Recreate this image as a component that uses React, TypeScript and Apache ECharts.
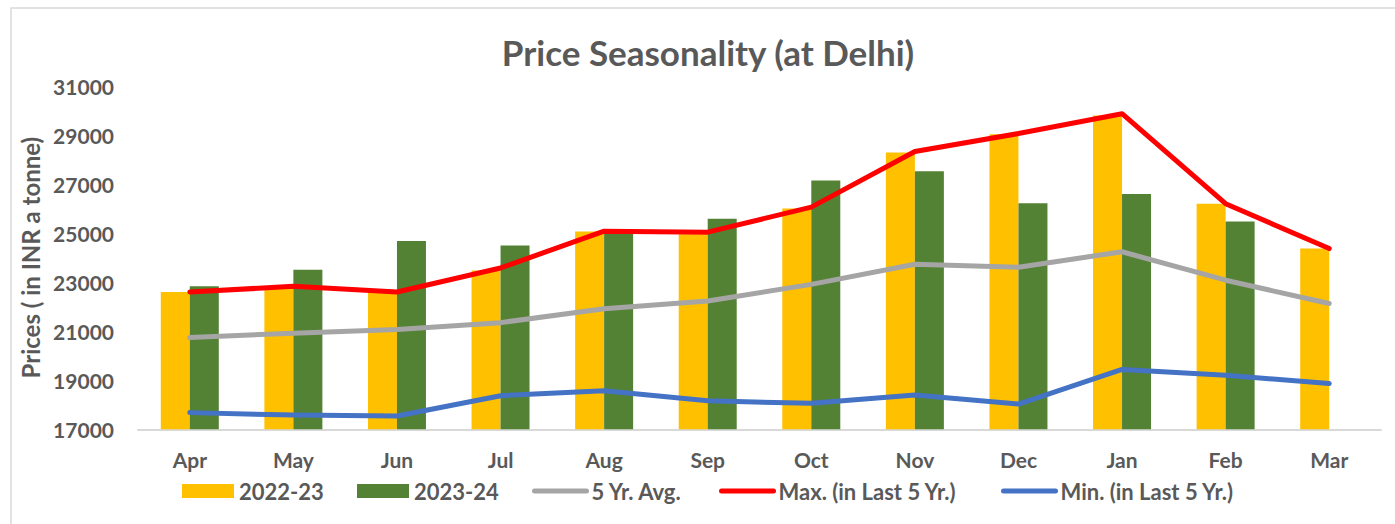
import React, { useEffect, useRef } from "react";
import * as echarts from "echarts";

const categories = ["Apr", "May", "Jun", "Jul", "Aug", "Sep", "Oct", "Nov", "Dec", "Jan", "Feb", "Mar"];
const y2022_23 = [22600, 22750, 22600, 23480, 25070, 24950, 26000, 28290, 29030, 29800, 26200, 24370];
const y2023_24 = [22830, 23510, 24680, 24500, 25100, 25590, 27150, 27520, 26220, 26600, 25470, null];
const avg5 = [20740, 20920, 21070, 21350, 21920, 22230, 22910, 23730, 23610, 24240, 23080, 22130];
const max5 = [22600, 22830, 22600, 23580, 25080, 25040, 26060, 28330, 29060, 29870, 26200, 24370];
const min5 = [17680, 17580, 17540, 18370, 18570, 18160, 18060, 18400, 18030, 19440, 19200, 18870];
const legendNames = ["2022-23", "2023-24", "5 Yr. Avg.", "Max. (in Last 5 Yr.)", "Min. (in Last 5 Yr.)"];

const FONT = "Lato";
const TXT = "#595959";

export default function App() {
  const ref = useRef<HTMLDivElement>(null);
  useEffect(() => {
    document.body.style.margin = "0";
    const chart = echarts.init(ref.current!, null, { renderer: "svg" });
    const lineSeries = (name: string, data: number[], color: string) => ({
      name,
      type: "line",
      data,
      symbol: "none",
      z: 3,
      lineStyle: { color, width: 5, cap: "round", join: "round" },
      itemStyle: { color },
    });
    const legendLefts = [182, 357, 532, 719, 1001];
    const legends = legendNames.map((name, i) => ({
      left: legendLefts[i],
      top: 480,
      padding: 0,
      itemWidth: 52,
      itemHeight: 14,
      textStyle: { fontFamily: FONT, fontSize: 22, fontWeight: "bold", color: TXT },
      data: [
        i < 2
          ? { name, icon: "rect" }
          : { name, itemStyle: { opacity: 0 }, lineStyle: { width: 5, cap: "round" } },
      ],
    }));
    chart.setOption({
      animation: false,
      textStyle: { fontFamily: FONT },
      title: {
        text: "Price Seasonality (at Delhi)",
        left: 703,
        top: 29,
        textAlign: "center",
        textStyle: { fontFamily: FONT, fontSize: 35, fontWeight: "bold", color: TXT },
      },
      graphic: [
        {
          type: "rect",
          shape: { x: 11, y: 8, width: 1400, height: 540 },
          style: { fill: "none", stroke: "#d9d9d9", lineWidth: 1.5 },
          silent: true,
        },
      ],
      legend: legends,
      grid: { left: 138, right: 14, top: 86, bottom: 94.7 },
      xAxis: {
        type: "category",
        data: categories,
        axisTick: { show: false },
        axisLine: { lineStyle: { color: "#d9d9d9", width: 2 } },
        axisLabel: { margin: 20, fontFamily: FONT, fontSize: 21, fontWeight: "bold", color: TXT },
      },
      yAxis: {
        type: "value",
        min: 17000,
        max: 31000,
        interval: 2000,
        splitLine: { show: false },
        axisLine: { show: false },
        axisTick: { show: false },
        axisLabel: {
          margin: 24,
          fontFamily: FONT,
          fontSize: 21,
          fontWeight: "bold",
          color: TXT,
          formatter: (v: number) => String(v),
        },
        name: "Prices ( in INR a tonne)",
        nameLocation: "middle",
        nameRotate: 90,
        nameGap: 90,
        nameTextStyle: { fontFamily: FONT, fontSize: 24, fontWeight: "bold", color: TXT },
      },
      series: [
        { name: "2022-23", type: "bar", data: y2022_23, barWidth: 29, barGap: "0%", itemStyle: { color: "#FFC000" } },
        { name: "2023-24", type: "bar", data: y2023_24, barWidth: 29, barGap: "0%", itemStyle: { color: "#548235" } },
        lineSeries("5 Yr. Avg.", avg5, "#A5A5A5"),
        lineSeries("Max. (in Last 5 Yr.)", max5, "#FF0000"),
        lineSeries("Min. (in Last 5 Yr.)", min5, "#4472C4"),
      ],
    });
    return () => chart.dispose();
  }, []);
  return <div ref={ref} style={{ width: 1395, height: 524 }} />;
}
